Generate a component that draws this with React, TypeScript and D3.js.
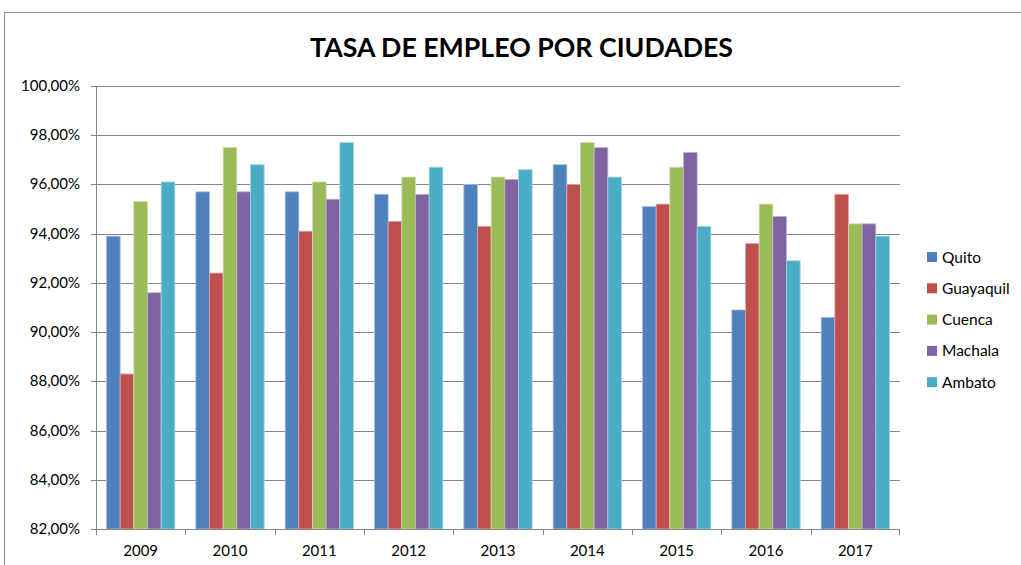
import React from "react";
import * as d3 from "d3";

const years = ["2009", "2010", "2011", "2012", "2013", "2014", "2015", "2016", "2017"];
const seriesNames = ["Quito", "Guayaquil", "Cuenca", "Machala", "Ambato"];
const colors = ["#4F81BD", "#C0504D", "#9BBB59", "#8064A2", "#4BACC6"];
const strokeColors = ["#A7C0DE", "#E0A8A6", "#CDDDAC", "#BFB1D0", "#A5D5E2"];

const quito = [93.9, 95.7, 95.7, 95.6, 96.0, 96.8, 95.1, 90.9, 90.6];
const guayaquil = [88.3, 92.4, 94.1, 94.5, 94.3, 96.0, 95.2, 93.6, 95.6];
const cuenca = [95.3, 97.5, 96.1, 96.3, 96.3, 97.7, 96.7, 95.2, 94.4];
const machala = [91.6, 95.7, 95.4, 95.6, 96.2, 97.5, 97.3, 94.7, 94.4];
const ambato = [96.1, 96.8, 97.7, 96.7, 96.6, 96.3, 94.3, 92.9, 93.9];
const seriesValues = [quito, guayaquil, cuenca, machala, ambato];

const yTicks = [82, 84, 86, 88, 90, 92, 94, 96, 98, 100];
const title = "TASA DE EMPLEO POR CIUDADES";

const font = "Lato, 'Open Sans', sans-serif";

export default function App() {
  const W = 1021;
  const H = 565;
  const left = 96;
  const right = 900;
  const top = 86;
  const bottom = 529;

  const x0 = d3.scaleBand<string>().domain(years).range([left, right]).paddingInner(0.235).paddingOuter(0.1175);
  const band = d3.scaleBand<string>().domain(years).range([left, right]);
  const x1 = d3.scaleBand<string>().domain(seriesNames).range([0, x0.bandwidth()]);
  const y = d3.scaleLinear().domain([82, 100]).range([bottom, top]);

  const fmt = (v: number) => v.toFixed(2).replace(".", ",") + "%";

  return (
    <svg width={W} height={H} style={{ position: "absolute", left: 0, top: 0 }}>
      <rect x={0} y={0} width={W} height={H} fill="#fff" />
      <rect x={4.5} y={12.5} width={1100} height={700} fill="none" stroke="#8c8c8c" strokeWidth={1} />
      <text
        x={521.5}
        y={57}
        textAnchor="middle"
        fontFamily={font}
        fontWeight="bold"
        fontSize={27}
        textLength={423}
        lengthAdjust="spacingAndGlyphs"
        fill="#000"
      >
        {title}
      </text>
      {/* gridlines */}
      {yTicks.map((t) => (
        <g key={t}>
          <line x1={left} x2={right} y1={Math.round(y(t)) + 0.5} y2={Math.round(y(t)) + 0.5} stroke="#868686" strokeWidth={1} />
          <line x1={left - 5} x2={left} y1={Math.round(y(t)) + 0.5} y2={Math.round(y(t)) + 0.5} stroke="#868686" strokeWidth={1} />
          <text x={80} y={y(t) + 5} textAnchor="end" fontFamily={font} fontSize={15} fill="#000">
            {fmt(t)}
          </text>
        </g>
      ))}
      {/* bars */}
      {years.map((yr, i) => (
        <g key={yr} transform={`translate(${x0(yr)},0)`}>
          {seriesNames.map((s, j) => {
            const v = seriesValues[j][i];
            return (
              <rect
                key={s}
                x={x1(s)}
                y={y(v)}
                width={x1.bandwidth()}
                height={bottom - y(v)}
                fill={colors[j]}
                stroke={strokeColors[j]}
                strokeWidth={0.8}
              />
            );
          })}
        </g>
      ))}
      {/* axes */}
      <line x1={left + 0.5} x2={left + 0.5} y1={top} y2={bottom} stroke="#868686" />
      <line x1={left} x2={right} y1={bottom + 0.5} y2={bottom + 0.5} stroke="#868686" />
      {years.map((yr) => (
        <line key={"t" + yr} x1={Math.round(band(yr)!) + 0.5} x2={Math.round(band(yr)!) + 0.5} y1={bottom} y2={bottom + 6} stroke="#868686" />
      ))}
      <line x1={right - 0.5} x2={right - 0.5} y1={bottom} y2={bottom + 6} stroke="#868686" />
      {years.map((yr) => (
        <text key={"l" + yr} x={band(yr)! + band.bandwidth() / 2} y={556} textAnchor="middle" fontFamily={font} fontSize={15} fill="#000">
          {yr}
        </text>
      ))}
      {/* legend */}
      {seriesNames.map((s, j) => (
        <g key={"lg" + s} transform={`translate(927,${257 + j * 31.3})`}>
          <rect x={0} y={-5} width={10} height={10} fill={colors[j]} />
          <text x={15} y={5.5} fontFamily={font} fontSize={15.5} fill="#000">
            {s}
          </text>
        </g>
      ))}
    </svg>
  );
}
